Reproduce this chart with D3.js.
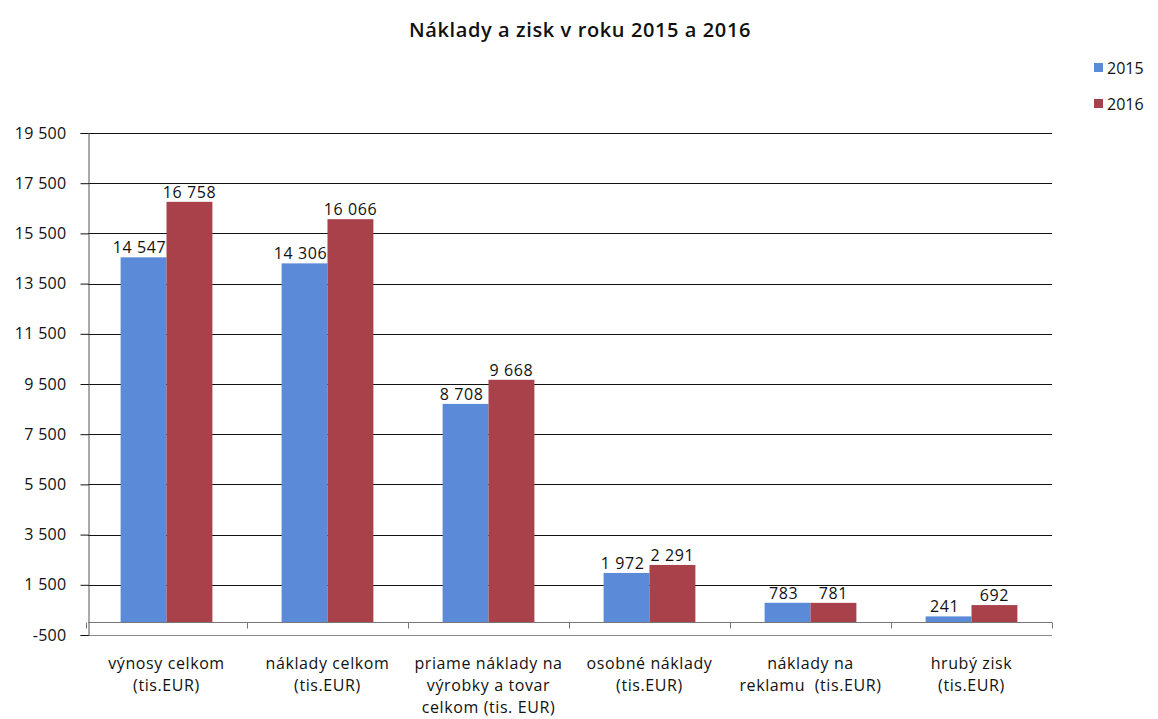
<!DOCTYPE html>
<html>
<head>
<meta charset="utf-8">
<script src="https://cdn.jsdelivr.net/npm/d3@7"></script>
<style>
  body { margin: 0; background: #fff; }
  svg { font-family: "Open Sans", sans-serif; }
  tspan { white-space: pre; }
</style>
</head>
<body>
<div id="chart"></div>
<script>
const categories = [
  ["výnosy celkom", "(tis.EUR)"],
  ["náklady celkom", "(tis.EUR)"],
  ["priame náklady na", "výrobky a tovar", "celkom (tis. EUR)"],
  ["osobné náklady", "(tis.EUR)"],
  ["náklady na", "reklamu  (tis.EUR)"],
  ["hrubý zisk", "(tis.EUR)"]
];
const seriesNames = ["2015", "2016"];
const values2015 = [14547, 14306, 8708, 1972, 783, 241];
const values2016 = [16758, 16066, 9668, 2291, 781, 692];
const yTicks = [-500, 1500, 3500, 5500, 7500, 9500, 11500, 13500, 15500, 17500, 19500];
const colors = ["#5b8ad8", "#a8414a"];

const W = 1158, H = 719;
const plot = { left: 88, right: 1052, top: 133, bottom: 635 };

const svg = d3.select("#chart").append("svg")
  .attr("width", W).attr("height", H);

const fmt = v => d3.format(",")(v).replace(/,/g, " ").replace("\u2212", "-");

const y = d3.scaleLinear().domain([-500, 19500]).range([plot.bottom, plot.top]);
const x0 = d3.scaleBand().domain(d3.range(categories.length))
  .range([plot.left - 2, plot.right]).paddingInner(0.43).paddingOuter(0.215);
const x1 = d3.scaleBand().domain(seriesNames).range([0, x0.bandwidth()]);

svg.append("text")
  .attr("x", 580).attr("y", 37)
  .attr("text-anchor", "middle")
  .attr("font-size", 20).attr("font-weight", 600)
  .attr("letter-spacing", 0.6)
  .attr("fill", "#111")
  .text("Náklady a zisk v roku 2015 a 2016");

// gridlines
svg.append("g").selectAll("line")
  .data(yTicks)
  .enter().append("line")
  .attr("x1", plot.left).attr("x2", plot.right)
  .attr("y1", d => Math.round(y(d)) + 0.5).attr("y2", d => Math.round(y(d)) + 0.5)
  .attr("stroke", d => d === -500 ? "#888" : "#111")
  .attr("stroke-width", 1);

// y axis
const yAxis = svg.append("g")
  .attr("transform", `translate(${plot.left + 0.5},0)`)
  .call(d3.axisLeft(y).tickValues(yTicks).tickFormat(fmt).tickSize(8).tickPadding(14));
yAxis.select(".domain").attr("stroke", "#555");
yAxis.selectAll(".tick line").attr("stroke", "#111");
yAxis.selectAll("text").attr("font-size", 16).attr("fill", "#111")
  .attr("letter-spacing", 0.3)
  .attr("font-family", "Open Sans, sans-serif");

// bars
const data = categories.map((c, i) => ({ i, vals: [values2015[i], values2016[i]] }));
const groups = svg.append("g").selectAll("g")
  .data(data)
  .enter().append("g")
  .attr("transform", d => `translate(${x0(d.i)},0)`);

groups.selectAll("rect")
  .data(d => d.vals.map((v, k) => ({ k, v })))
  .enter().append("rect")
  .attr("x", d => x1(seriesNames[d.k]))
  .attr("width", x1.bandwidth())
  .attr("y", d => y(d.v))
  .attr("height", d => y(0) - y(d.v))
  .attr("fill", d => colors[d.k]);

groups.selectAll("text.val")
  .data(d => d.vals.map((v, k) => ({ k, v })))
  .enter().append("text")
  .attr("class", "val")
  .attr("x", d => x1(seriesNames[d.k]) + x1.bandwidth() / 2 - (d.k === 0 ? 4 : 0))
  .attr("y", d => y(d.v) - 4)
  .attr("text-anchor", "middle")
  .attr("font-size", 16).attr("letter-spacing", 0.6).attr("fill", "#111")
  .text(d => fmt(d.v));

// category axis at zero
const y0 = Math.round(y(0)) + 0.5;
svg.append("line")
  .attr("x1", plot.left).attr("x2", plot.right)
  .attr("y1", y0).attr("y2", y0)
  .attr("stroke", "#777");
const step = x0.step();
svg.append("g").selectAll("line")
  .data(d3.range(categories.length + 1))
  .enter().append("line")
  .attr("x1", i => Math.round(x0(0) - x0.paddingInner() * step / 2 + i * step) + 0.5)
  .attr("x2", i => Math.round(x0(0) - x0.paddingInner() * step / 2 + i * step) + 0.5)
  .attr("y1", y0).attr("y2", y0 + 6)
  .attr("stroke", "#777");

// category labels
const labels = svg.append("g").selectAll("text")
  .data(categories)
  .enter().append("text")
  .attr("text-anchor", "middle")
  .attr("font-size", 16).attr("letter-spacing", 0.6).attr("fill", "#111");
labels.each(function(lines, i) {
  const t = d3.select(this);
  lines.forEach((ln, j) => {
    t.append("tspan")
      .attr("x", x0(i) + x0.bandwidth() / 2)
      .attr("y", 669 + j * 22)
      .text(ln);
  });
});

// legend
const legend = svg.append("g").selectAll("g")
  .data(seriesNames)
  .enter().append("g")
  .attr("transform", (d, i) => `translate(1094,${68 + i * 36})`);
legend.append("rect")
  .attr("x", 0).attr("y", -5).attr("width", 9).attr("height", 9)
  .attr("fill", (d, i) => colors[i]);
legend.append("text")
  .attr("x", 13).attr("y", 6)
  .attr("font-size", 16).attr("fill", "#111")
  .text(d => d);
</script>
</body>
</html>
